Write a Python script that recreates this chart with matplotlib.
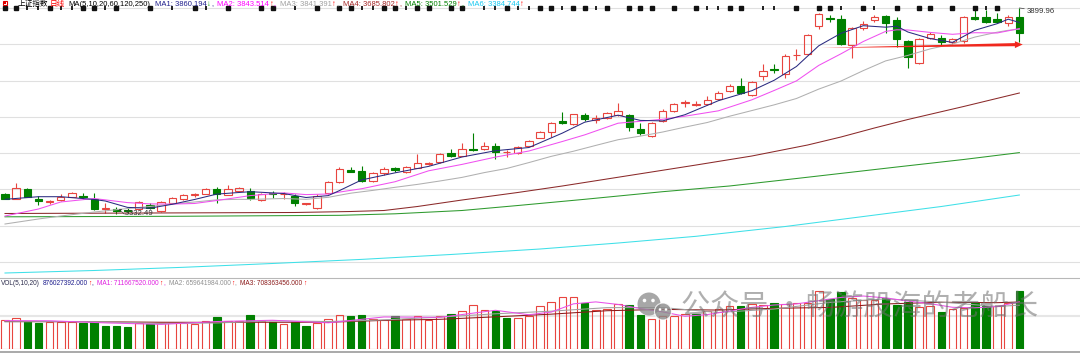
import matplotlib
matplotlib.use('Agg')
import matplotlib.pyplot as plt
import matplotlib.patches as mpatches
from matplotlib.lines import Line2D
from matplotlib.transforms import IdentityTransform
import numpy as np

W, H = 1080, 353
RED = '#e8453f'
GREEN = '#008000'
FAM = ['Liberation Sans', 'Noto Sans CJK SC', 'DejaVu Sans']

# ── daily candles (上证指数) ─────────────────────────────────────────────────
open_ = [3386.7, 3374.6, 3400.5, 3374.6, 3365.5, 3371.0, 3380.1, 3382.8, 3373.8, 3345.4,
         3347.0, 3344.8, 3345.4, 3358.1, 3339.9, 3361.9, 3372.9, 3384.8, 3387.5, 3402.1,
         3385.6, 3395.0, 3396.6, 3371.0, 3391.1, 3386.7, 3382.8, 3360.0, 3348.1, 3391.1,
         3420.6, 3452.8, 3450.9, 3424.2, 3444.6, 3458.3, 3449.0, 3460.0, 3470.2, 3474.9,
         3501.3, 3493.0, 3511.5, 3511.5, 3519.8, 3502.4, 3501.3, 3519.8, 3542.6, 3559.2,
         3587.8, 3579.6, 3605.2, 3591.4, 3596.9, 3605.2, 3605.2, 3567.4, 3547.3, 3588.6,
         3616.2, 3638.2, 3634.1, 3635.5, 3648.4, 3671.3, 3685.9, 3660.3, 3713.4, 3731.9,
         3717.3, 3769.6, 3772.4, 3851.2, 3873.2, 3869.7, 3798.0, 3844.0, 3866.9, 3878.7,
         3866.9, 3809.9, 3749.3, 3816.5, 3816.5, 3805.5, 3809.0, 3876.0, 3876.0, 3868.8,
         3857.3, 3876.0]
high = [3390.3, 3418.7, 3404.9, 3382.0, 3371.0, 3386.7, 3393.9, 3391.1, 3389.5, 3361.9,
        3352.5, 3350.3, 3369.1, 3361.4, 3369.6, 3380.6, 3387.5, 3389.5, 3402.7, 3407.6,
        3412.3, 3407.6, 3403.2, 3389.5, 3396.6, 3392.2, 3387.5, 3363.6, 3387.5, 3423.3,
        3461.1, 3462.7, 3464.7, 3449.0, 3461.1, 3462.7, 3464.7, 3497.7, 3476.5, 3500.5,
        3510.7, 3527.2, 3556.4, 3531.6, 3527.2, 3508.7, 3518.4, 3536.3, 3561.1, 3585.9,
        3614.3, 3609.3, 3609.9, 3604.4, 3613.4, 3637.4, 3607.9, 3582.3, 3585.1, 3621.7,
        3636.9, 3646.5, 3644.6, 3658.3, 3671.3, 3689.8, 3706.3, 3698.8, 3745.7, 3744.9,
        3772.4, 3787.0, 3827.5, 3885.4, 3880.7, 3880.7, 3847.6, 3862.8, 3880.7, 3880.7,
        3876.5, 3811.8, 3818.1, 3834.7, 3825.6, 3816.5, 3877.9, 3894.4, 3894.4, 3885.4,
        3880.7, 3899.96]
low = [3372.4, 3372.4, 3377.9, 3357.2, 3359.2, 3369.6, 3378.4, 3374.6, 3343.4, 3336.0,
       3332.49, 3335.2, 3343.4, 3346.2, 3337.9, 3360.0, 3371.0, 3380.1, 3386.2, 3363.6,
       3383.9, 3393.0, 3371.0, 3369.6, 3375.7, 3372.9, 3354.5, 3358.6, 3346.2, 3388.9,
       3419.2, 3447.3, 3421.4, 3421.4, 3439.9, 3449.0, 3444.6, 3458.3, 3466.6, 3472.9,
       3490.3, 3491.4, 3506.0, 3510.1, 3483.1, 3490.3, 3499.1, 3518.4, 3541.0, 3545.4,
       3579.6, 3577.6, 3588.6, 3582.3, 3593.3, 3603.8, 3561.9, 3550.1, 3545.4, 3585.9,
       3614.8, 3628.0, 3630.0, 3634.1, 3646.5, 3669.9, 3663.0, 3658.3, 3701.6, 3720.1,
       3707.9, 3756.7, 3770.5, 3842.1, 3862.2, 3798.0, 3763.0, 3840.7, 3860.6, 3830.3,
       3793.3, 3733.8, 3744.9, 3813.7, 3796.1, 3800.0, 3802.7, 3867.7, 3857.8, 3857.8,
       3850.4, 3807.1]
close = [3374.6, 3403.2, 3380.1, 3368.2, 3367.4, 3380.1, 3389.5, 3378.4, 3345.4, 3348.1,
         3339.9, 3340.7, 3364.7, 3348.1, 3365.5, 3377.3, 3384.8, 3386.2, 3400.5, 3387.5,
         3402.1, 3403.2, 3376.5, 3387.5, 3388.9, 3388.4, 3363.6, 3361.4, 3382.0, 3420.6,
         3456.4, 3449.0, 3424.2, 3446.2, 3457.2, 3453.6, 3461.1, 3472.1, 3473.8, 3497.7,
         3493.0, 3510.7, 3507.9, 3519.8, 3503.2, 3504.1, 3516.2, 3534.4, 3559.2, 3584.0,
         3583.1, 3607.1, 3593.3, 3596.1, 3609.9, 3616.2, 3572.9, 3556.4, 3583.1, 3616.2,
         3634.7, 3640.2, 3635.5, 3646.5, 3666.6, 3685.1, 3665.0, 3696.9, 3727.2, 3730.0,
         3768.5, 3771.3, 3825.6, 3883.4, 3870.5, 3800.0, 3845.7, 3855.9, 3876.0, 3857.8,
         3813.7, 3765.8, 3813.7, 3827.5, 3805.5, 3813.7, 3876.0, 3869.7, 3862.2, 3862.2,
         3876.5, 3831.9]

# volume in millions, and whether the volume bar is drawn red (1) or green (0)
volume = [426.6, 463.1, 415.9, 396.1, 411.3, 411.3, 400.7, 390.0, 400.7, 348.9,
          348.9, 333.6, 390.0, 374.8, 390.0, 390.0, 396.1, 374.8, 415.9, 478.4,
          415.9, 415.9, 504.3, 415.9, 400.7, 370.2, 400.7, 344.3, 390.0, 452.5,
          504.3, 493.6, 514.9, 452.5, 437.2, 493.6, 452.5, 493.6, 441.8, 493.6,
          524.1, 565.2, 668.8, 582.0, 571.3, 463.1, 463.1, 493.6, 645.0, 710.0,
          777.0, 777.0, 694.7, 591.1, 607.9, 684.1, 658.2, 504.3, 452.5, 489.0,
          489.0, 519.5, 519.5, 565.2, 607.9, 642.9, 642.9, 674.9, 658.2, 694.7,
          674.9, 694.7, 694.7, 880.0, 760.0, 860.0, 761.8, 735.9, 735.9, 761.8,
          670.0, 710.0, 630.0, 640.0, 560.0, 600.0, 610.0, 690.0, 640.0, 650.0,
          698.0, 876.027392]
vol_up = [1, 1, 0, 0, 1, 1, 1, 0, 0, 0,
          0, 0, 1, 0, 1, 1, 1, 1, 1, 0,
          1, 1, 0, 1, 0, 1, 0, 0, 1, 1,
          1, 0, 0, 1, 1, 0, 1, 1, 1, 1,
          0, 1, 1, 1, 0, 0, 1, 1, 1, 1,
          1, 1, 0, 1, 1, 1, 0, 0, 1, 1,
          1, 1, 0, 1, 1, 1, 0, 1, 1, 0,
          1, 1, 1, 1, 0, 0, 1, 1, 1, 0,
          0, 0, 1, 1, 0, 1, 1, 0, 0, 1,
          1, 0]

# ── moving averages (index, value) ───────────────────────────────────────────
ma1_idx = [0, 3, 5, 8, 9, 11, 13, 15, 17, 19, 22, 25, 27, 29, 30, 32, 35, 38, 41, 44,
           47, 50, 52, 55, 57, 59, 61, 64, 67, 69, 71, 73, 75, 77, 79, 80, 81, 83, 85, 87,
           89, 90, 91]
ma1 = [3372.9, 3380.1, 3380.1, 3372.4, 3368.2, 3350.6, 3348.4, 3359.2, 3372.4, 3387.3,
       3393.9, 3388.9, 3377.9, 3383.1, 3396.9, 3426.4, 3445.9, 3463.6, 3489.5, 3506.8,
       3515.6, 3555.3, 3585.3, 3604.6, 3590.3, 3588.9, 3606.0, 3644.6, 3672.1, 3700.8,
       3738.8, 3795.8, 3830.3, 3851.2, 3847.1, 3849.8, 3833.8, 3815.7, 3805.2, 3838.5,
       3856.7, 3869.1, 3860.19]
ma2_idx = [0, 3, 5, 8, 11, 13, 15, 17, 19, 22, 25, 27, 29, 30, 32, 35, 38, 41, 44, 47,
           50, 52, 55, 57, 59, 61, 64, 67, 69, 71, 73, 75, 77, 79, 80, 81, 83, 85, 87, 89,
           90, 91]
ma2 = [3326.9, 3346.2, 3365.5, 3375.1, 3363.8, 3360.3, 3359.7, 3361.4, 3369.6, 3383.1,
       3390.6, 3385.9, 3387.5, 3392.8, 3402.1, 3421.4, 3451.4, 3469.1, 3489.2, 3506.0,
       3532.2, 3550.4, 3582.6, 3587.8, 3593.4, 3601.9, 3616.7, 3647.0, 3672.7, 3699.1,
       3741.8, 3773.8, 3807.7, 3835.5, 3839.9, 3839.4, 3832.7, 3827.5, 3831.9, 3831.1,
       3837.1, 3843.51]
ma3_idx = [0, 3, 5, 8, 11, 13, 15, 17, 19, 21, 22, 25, 27, 29, 31, 33, 35, 37, 39, 41,
           43, 45, 47, 49, 51, 53, 55, 57, 59, 61, 63, 65, 67, 69, 71, 73, 75, 77, 79, 81,
           83, 85, 87, 89, 90, 91]
ma3 = [3304.9, 3318.7, 3326.9, 3337.9, 3347.6, 3353.1, 3360.0, 3365.5, 3371.5, 3372.9,
       3372.7, 3375.1, 3372.9, 3378.4, 3389.7, 3397.5, 3406.0, 3414.0, 3423.3, 3433.3,
       3446.5, 3457.8, 3474.1, 3491.2, 3505.4, 3521.4, 3537.1, 3547.0, 3558.3, 3571.8,
       3584.5, 3601.8, 3617.4, 3633.1, 3650.6, 3676.5, 3698.8, 3727.5, 3754.2, 3769.4,
       3787.3, 3800.8, 3819.8, 3833.3, 3838.5, 3841.39]
ma4_idx = [0, 13, 26, 31, 34, 37, 41, 46, 50, 56, 62, 67, 72, 75, 78, 81, 86, 91]
ma4 = [3333.8, 3335.2, 3336.6, 3339.3, 3342.1, 3353.1, 3371.0, 3391.7, 3409.6, 3438.5,
       3467.4, 3492.2, 3522.5, 3544.6, 3569.4, 3592.8, 3628.6, 3665.80]
ma5_idx = [0, 15, 30, 35, 41, 46, 52, 59, 65, 71, 80, 86, 91]
ma5 = [3324.7, 3326.1, 3328.8, 3333.0, 3342.1, 3355.8, 3372.9, 3393.9, 3409.6, 3430.2,
       3461.9, 3482.6, 3501.53]
ma6_idx = [0, 8, 16, 24, 32, 40, 48, 55, 62, 70, 77, 84, 91]
ma6 = [3169.9, 3176.8, 3185.6, 3196.1, 3207.4, 3220.9, 3236.0, 3252.5, 3271.0, 3298.0,
       3325.5, 3353.1, 3384.74]

vma1_idx = [0, 4, 9, 14, 19, 24, 29, 34, 39, 42, 44, 47, 49, 51, 53, 55, 57, 59, 61, 63,
            65, 67, 69, 71, 73, 75, 77, 79, 81, 83, 85, 87, 89, 91]
vma1 = [425.0, 422.6, 390.0, 367.5, 411.0, 430.5, 391.5, 480.5, 475.0, 538.7,
        582.3, 514.6, 555.0, 680.5, 710.0, 671.0, 609.0, 557.6, 490.9, 516.4,
        571.0, 626.8, 662.7, 679.5, 727.8, 777.9, 799.5, 771.0, 722.7, 682.4,
        628.0, 620.0, 638.0, 711.67]
vma2_idx = [0, 4, 9, 14, 19, 24, 29, 34, 39, 44, 49, 54, 59, 64, 69, 74, 79, 84, 89, 91]
vma2 = [406.0, 410.0, 406.5, 378.9, 389.3, 420.8, 411.0, 436.0, 477.8, 528.7,
        568.6, 622.3, 623.6, 548.9, 601.5, 701.8, 756.0, 706.5, 640.0, 659.64]
vma3_idx = [0, 9, 14, 19, 24, 29, 34, 39, 44, 49, 54, 59, 64, 69, 74, 79, 84, 89, 91]
vma3 = [411.0, 406.0, 400.0, 397.9, 399.8, 400.1, 428.4, 444.4, 482.3, 523.2,
        575.5, 596.1, 585.6, 612.5, 625.4, 678.7, 704.2, 698.0, 708.36]

# info markers along the top row
sq_idx = [0, 1, 4, 7, 8, 10, 13, 17, 20, 23, 24, 28, 30, 31, 34, 35, 37, 38, 40, 41, 45,
          48, 49, 51, 52, 54, 56, 57, 58, 60, 62, 65, 66, 71, 73, 74, 77, 80, 82, 83, 85,
          87, 89]
tick_idx = [2, 3, 5, 6, 9, 15, 18, 26, 32, 33, 36, 43, 44, 46, 47, 50, 53, 63, 64, 68,
            69, 75, 78, 88]

# header values
ma_names = ['MA1', 'MA2', 'MA3', 'MA4', 'MA5', 'MA6']
ma_last = [3860.194, 3843.514, 3841.391, 3685.802, 3501.529, 3384.744]
ma_dir = ['down', 'up', 'up', 'up', 'up', 'up']
ma_colors = ['#1e1e8c', '#ff00ff', '#a0a0a0', '#a52a2a', '#008000', '#18c8f0']
vol_last = 876027392.000
vma_last = [711667520.000, 659641984.000, 708363456.000]
vma_colors = ['#e020e0', '#909090', '#8b1a1a']


def fx(px):
    return px / W


def fy(py):
    return 1 - py / H


fig = plt.figure(figsize=(W / 100, H / 100), dpi=100, facecolor='white')

# ── price panel ──────────────────────────────────────────────────────────────
ax = fig.add_axes([0, fy(277.5), 1, 277.5 / H])
ax.set_xlim(-0.449, 96.44)
ax.set_ylim(3157.5, 3922.0)
ax.axis('off')
for g in range(3200, 4000, 100):
    ax.axhline(g, color='#e0e0e0', lw=0.8, zorder=0)

idx = np.arange(len(close))
o, h, l, c = map(np.array, (open_, high, low, close))
up = c >= o
top = np.maximum(o, c)
bot = np.minimum(o, c)
cols = [RED if u else GREEN for u in up]
ax.vlines(idx, top, h, colors=cols, lw=0.8, zorder=2)
ax.vlines(idx, l, bot, colors=cols, lw=0.8, zorder=2)
ax.bar(idx, np.maximum(top - bot, 0.8), bottom=bot, width=0.66,
       color=['none' if u else GREEN for u in up], edgecolor=cols, linewidth=0.8, zorder=2)

ax.plot(ma6_idx, ma6, color='#3fe0e8', lw=0.75, zorder=3)
ax.plot(ma5_idx, ma5, color='#2e9a2e', lw=0.75, zorder=3)
ax.plot(ma4_idx, ma4, color='#8b2a2a', lw=0.75, zorder=3)
ax.plot(ma3_idx, ma3, color='#b0b0b0', lw=0.75, zorder=3)
ax.plot(ma2_idx, ma2, color='#f050f0', lw=0.75, zorder=3)
ax.plot(ma1_idx, ma1, color='#2a2a80', lw=0.75, zorder=3)

trans = ax.get_xaxis_transform()
row = 1 - 8 / 277.5
ax.plot(sq_idx, [row] * len(sq_idx), 's', ms=2.2, color='#111111', transform=trans,
        clip_on=False, zorder=5)
ax.plot(tick_idx, [row] * len(tick_idx), '|', ms=3.4, mew=1.3, color='#111111',
        transform=trans, clip_on=False, zorder=5)

hi_i = int(np.argmax(h))
lo_i = int(np.argmin(l))
ax.annotate(f'{h[hi_i]:.2f}', xy=(hi_i, h[hi_i]), xytext=(5.5, -2.2),
            textcoords='offset points', fontsize=5.6, color='#333333', family=FAM,
            ha='left', va='center',
            arrowprops=dict(arrowstyle='-', color='#555555', lw=0.6, shrinkA=0, shrinkB=0))
ax.annotate('\u2196' + f'{l[lo_i]:.2f}', xy=(lo_i, l[lo_i]), xytext=(1.0, 0.3),
            textcoords='offset points', fontsize=5.6, color='#333333', family=FAM,
            ha='left', va='center')

# red arrow drawn over the chart
arrow_pts = [(73.1, 3790.0), (90.6, 3803.3), (90.6, 3808.5), (91.3, 3799.4),
             (90.6, 3789.5), (90.6, 3794.7)]
ax.add_patch(mpatches.Polygon(arrow_pts, closed=True, facecolor='#f0281e',
                              edgecolor='none', zorder=6))

# ── volume panel ─────────────────────────────────────────────────────────────
vax = fig.add_axes([0, fy(348.5), 1, 68.5 / H])
vax.set_xlim(-0.449, 96.44)
vax.set_ylim(0, 1043.6)
vax.axis('off')
vax.axhline(500, color='#e6e6e6', lw=1.5, zorder=0)
vcols = [RED if u else GREEN for u in vol_up]
vax.bar(idx, volume, width=0.68, color=['none' if u else GREEN for u in vol_up],
        edgecolor=vcols, linewidth=0.8, zorder=2)
vax.plot(vma3_idx, vma3, color=vma_colors[2], lw=0.75, zorder=3)
vax.plot(vma2_idx, vma2, color='#a0a0a0', lw=0.75, zorder=3)
vax.plot(vma1_idx, vma1, color='#e850e8', lw=0.75, zorder=3)

fig.add_artist(Line2D([0, 1], [fy(277.8)] * 2, color='#b8b8b8', lw=0.8))
fig.add_artist(Line2D([0, 1], [fy(351.8)] * 2, color='#a9a9a9', lw=1.4))

# ── header texts ─────────────────────────────────────────────────────────────
renderer = fig.canvas.get_renderer()


def chain(x, y, parts, size):
    for s, col, gap in parts:
        t = fig.text(fx(x), fy(y), s, fontsize=size, color=col, family=FAM,
                     ha='left', va='baseline')
        x += t.get_window_extent(renderer).width + gap
    return x


fig.add_artist(mpatches.Rectangle((fx(2.5), fy(5.0)), 4.5 / W, 4.5 / H,
                                  facecolor='white', edgecolor='#e00000', lw=0.8))
fig.add_artist(mpatches.Rectangle((fx(4.0), fy(3.5)), 1.5 / W, 1.5 / H,
                                  facecolor='#e00000', edgecolor='none'))

parts = [('上证指数', '#000000', 1.0), ('日线', '#ff0000', 4.0),
         ('MA(5,10,20,60,120,250)', '#000000', 4.0)]
for k, (name, val, d, col) in enumerate(zip(ma_names, ma_last, ma_dir, ma_colors)):
    parts.append((f'{name}: {val:.3f}', col, 0.5))
    if d == 'up':
        parts.append(('\u2191', '#ff0000', 0.3))
    else:
        parts.append(('\u2193', '#00a000', 0.3))
    if k < len(ma_names) - 1:
        parts.append((',', col, 4.0))
chain(18, 6.0, parts, 5.5)

vparts = [('VOL(5,10,20)', '#2b2b4b', 3.0), (f'{vol_last:.3f}', '#1c1c8c', 0.5),
          ('\u2191', '#ff0000', 0.3), (',', '#1c1c8c', 4.0)]
for k, (val, col) in enumerate(zip(vma_last, vma_colors)):
    vparts.append((f'MA{k + 1}: {val:.3f}', col, 0.5))
    vparts.append(('\u2191', '#ff0000', 0.3))
    if k < 2:
        vparts.append((',', col, 4.0))
chain(0.5, 284.8, vparts, 4.7)

# ── watermark ────────────────────────────────────────────────────────────────
wm = '#8a8a8a'
fig.add_artist(mpatches.Circle((649, H - 304), 11.5, transform=IdentityTransform(),
                               facecolor=wm, edgecolor='none', alpha=0.75, zorder=9))
fig.add_artist(mpatches.Circle((663, H - 311.5), 8.5, transform=IdentityTransform(),
                               facecolor=wm, edgecolor='white', lw=0.8, alpha=0.8, zorder=9))
for ex, ey, r in [(644.5, 300.5, 1.8), (653, 300.5, 1.8), (660, 309.5, 1.3), (666, 309.5, 1.3)]:
    fig.add_artist(mpatches.Circle((ex, H - ey), r, transform=IdentityTransform(),
                                   facecolor='white', edgecolor='none', zorder=10))
fig.text(fx(681), fy(308), '公众号 ·', fontsize=21, color='#6e6e6e', alpha=0.55,
         family=['Noto Sans CJK SC'], ha='left', va='center', zorder=10)
fig.text(fx(805), fy(308), '畅游股海的老船长', fontsize=21, color='#6e6e6e', alpha=0.55,
         family=['Noto Sans CJK SC'], ha='left', va='center', zorder=10)

fig.savefig('out.png', dpi=100, facecolor='white')
